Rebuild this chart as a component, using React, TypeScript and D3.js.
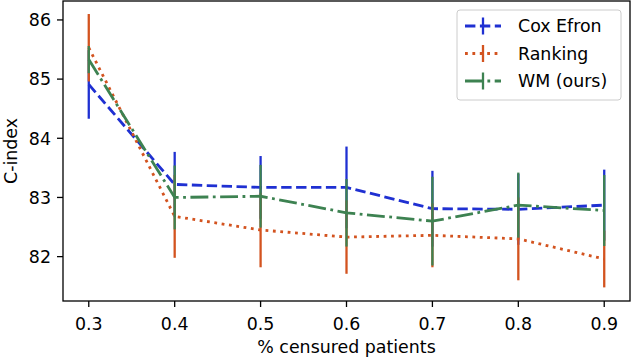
import React from "react";
import * as d3 from "d3";

const censored = [0.3, 0.4, 0.5, 0.6, 0.7, 0.8, 0.9];
const coxMean = [84.91, 83.22, 83.17, 83.17, 82.81, 82.8, 82.87];
const coxStd = [0.58, 0.55, 0.53, 0.69, 0.64, 0.6, 0.6];
const rankMean = [85.53, 82.68, 82.45, 82.33, 82.36, 82.3, 81.96];
const rankStd = [0.57, 0.7, 0.63, 0.62, 0.54, 0.7, 0.48];
const wmMean = [85.33, 83.0, 83.02, 82.74, 82.6, 82.87, 82.78];
const wmStd = [0.23, 0.54, 0.53, 0.57, 0.75, 0.55, 0.6];
const xTicks = [0.3, 0.4, 0.5, 0.6, 0.7, 0.8, 0.9];
const yTicks = [82, 83, 84, 85, 86];
const seriesNames = ["Cox Efron", "Ranking", "WM (ours)"];

const W = 632, H = 360;
const left = 63, right = 630, top = 1, bottom = 301;
const FONT = "DejaVu Sans";
const FS = 17.4;
const LW = 2.8;

const styles = [
  { color: "#1f30d2", dash: "10.4,4.5" },
  { color: "#d3531f", dash: "2.8,4.6" },
  { color: "#3d8251", dash: "17.9,4.5,2.8,4.5" },
];

export default function App() {
  const x = d3.scaleLinear().domain([0.27, 0.93]).range([left, right]);
  const y = d3.scaleLinear().domain([81.25, 86.32]).range([bottom, top]);
  const series = [
    { mean: coxMean, std: coxStd },
    { mean: rankMean, std: rankStd },
    { mean: wmMean, std: wmStd },
  ];
  const line = d3
    .line<number>()
    .x((_, i) => x(censored[i]))
    .y((d) => y(d));

  const legX = 457, legY = 10, legW = 164, legH = 90;
  const rowY = [26, 53.5, 81];

  return (
    <svg
      width={W}
      height={H}
      style={{ position: "absolute", left: 0, top: 0 }}
      fontFamily={FONT}
    >
      <rect x={0} y={0} width={W} height={H} fill="white" />
      {series.map((s, k) => (
        <g key={k}>
          <path
            d={line(s.mean) || ""}
            fill="none"
            stroke={styles[k].color}
            strokeWidth={LW}
            strokeDasharray={styles[k].dash}
          />
          {s.mean.map((m, i) => (
            <line
              key={i}
              x1={x(censored[i])}
              x2={x(censored[i])}
              y1={y(m - s.std[i])}
              y2={y(m + s.std[i])}
              stroke={styles[k].color}
              strokeWidth={2.3}
            />
          ))}
        </g>
      ))}
      {/* axes */}
      <rect
        x={left}
        y={top}
        width={right - left}
        height={bottom - top}
        fill="none"
        stroke="black"
        strokeWidth={1.3}
      />
      {xTicks.map((t) => (
        <g key={t}>
          <line x1={x(t)} x2={x(t)} y1={bottom} y2={bottom + 6} stroke="black" strokeWidth={1.3} />
          <text x={x(t)} y={330} textAnchor="middle" fontSize={FS}>
            {t.toFixed(1)}
          </text>
        </g>
      ))}
      {yTicks.map((t) => (
        <g key={t}>
          <line x1={left - 6} x2={left} y1={y(t)} y2={y(t)} stroke="black" strokeWidth={1.3} />
          <text x={51} y={y(t)} dy="0.36em" textAnchor="end" fontSize={FS}>
            {t}
          </text>
        </g>
      ))}
      <text x={(left + right) / 2} y={353} textAnchor="middle" fontSize={FS}>
        % censured patients
      </text>
      <text
        transform={`translate(17,${(top + bottom) / 2}) rotate(-90)`}
        textAnchor="middle"
        fontSize={FS}
      >
        C-index
      </text>
      {/* legend */}
      <rect
        x={legX}
        y={legY}
        width={legW}
        height={legH}
        rx={3}
        fill="white"
        fillOpacity={0.8}
        stroke="#cccccc"
        strokeWidth={1}
      />
      {seriesNames.map((n, k) => (
        <g key={n}>
          <line
            x1={465}
            x2={501}
            y1={rowY[k]}
            y2={rowY[k]}
            stroke={styles[k].color}
            strokeWidth={LW}
            strokeDasharray={styles[k].dash}
          />
          <line
            x1={483}
            x2={483}
            y1={rowY[k] - 8.5}
            y2={rowY[k] + 8.5}
            stroke={styles[k].color}
            strokeWidth={2.3}
          />
          <text x={518} y={rowY[k]} dy="0.36em" fontSize={FS}>
            {n}
          </text>
        </g>
      ))}
    </svg>
  );
}
